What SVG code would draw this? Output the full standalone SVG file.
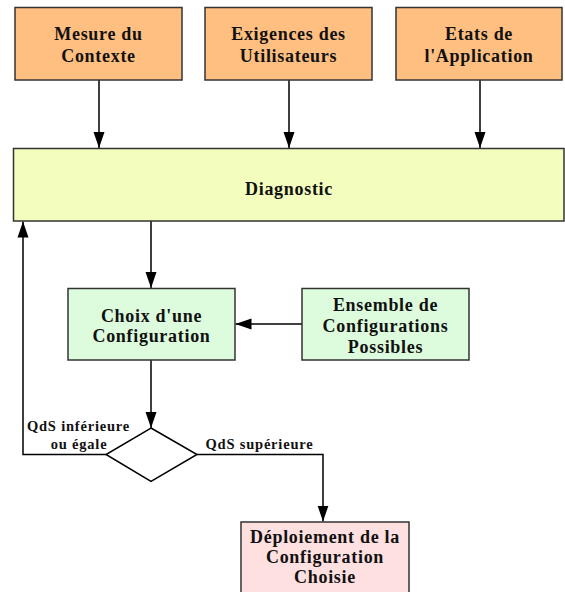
<svg xmlns="http://www.w3.org/2000/svg" width="565" height="592" viewBox="0 0 565 592">
<style>
.box{stroke:#333;stroke-width:1.5}
.orange{fill:#FFBF80}
.yellow{fill:#F3FDBD}
.green{fill:#DDFCDD}
.pink{fill:#FFE0E0}
.diamond{fill:#fff;stroke:#000;stroke-width:1.5}
text{font-family:"Liberation Serif","Times New Roman",serif;font-weight:bold;fill:#111;text-anchor:middle}
.t{font-size:18px;letter-spacing:0.7px}
.l{font-size:14.5px;letter-spacing:0.8px}
.edge{fill:none;stroke:#000;stroke-width:1.5}
</style>
<defs>
<marker id="arr" markerUnits="userSpaceOnUse" markerWidth="16" markerHeight="12" refX="16" refY="6" orient="auto">
<path d="M0,0.5 L16,6 L0,11.5 z" fill="#000"/>
</marker>
</defs>
<rect width="565" height="592" fill="#fff"/>
<g id="connectors">
<path class="edge" d="M99,80 V148" marker-end="url(#arr)"/>
<path class="edge" d="M289,80 V148" marker-end="url(#arr)"/>
<path class="edge" d="M480,80 V148" marker-end="url(#arr)"/>
<path class="edge" d="M151,221 V288" marker-end="url(#arr)"/>
<path class="edge" d="M302,324 H235.5" marker-end="url(#arr)"/>
<path class="edge" d="M151,360 V428" marker-end="url(#arr)"/>
<path class="edge" d="M106,454.5 H23 V221.5" marker-end="url(#arr)"/>
<path class="edge" d="M197,454.5 H323 V521.5" marker-end="url(#arr)"/>
</g>
<g id="mesure">
<rect class="box orange" x="15" y="7.5" width="167" height="72.5"/>
<text class="t" x="98.5" y="40">Mesure du</text>
<text class="t" x="98.5" y="62">Contexte</text>
</g>
<g id="exigences">
<rect class="box orange" x="205" y="7.5" width="167" height="72.5"/>
<text class="t" x="288.5" y="40">Exigences des</text>
<text class="t" x="288.5" y="62">Utilisateurs</text>
</g>
<g id="etats">
<rect class="box orange" x="396" y="7.5" width="166" height="72.5"/>
<text class="t" x="479" y="40">Etats de</text>
<text class="t" x="479" y="62">l'Application</text>
</g>
<g id="diagnostic">
<rect class="box yellow" x="13.5" y="148.5" width="550.5" height="72.5"/>
<text class="t" x="289" y="195">Diagnostic</text>
</g>
<g id="choix">
<rect class="box green" x="68" y="288.5" width="167" height="71.5"/>
<text class="t" x="151.5" y="322">Choix d'une</text>
<text class="t" x="151.5" y="342">Configuration</text>
</g>
<g id="ensemble">
<rect class="box green" x="302" y="288.5" width="167" height="71.5"/>
<text class="t" x="385.5" y="311">Ensemble de</text>
<text class="t" x="385.5" y="332">Configurations</text>
<text class="t" x="385.5" y="353">Possibles</text>
</g>
<g id="decision">
<polygon class="diamond" points="151,428 197,454.5 151,481.5 106,454.5"/>
<text class="l" x="78.5" y="431">QdS inférieure</text>
<text class="l" x="79" y="449">ou égale</text>
<text class="l" x="259.5" y="449">QdS supérieure</text>
</g>
<g id="deploiement">
<rect class="box pink" x="241" y="522" width="168" height="80"/>
<text class="t" x="325" y="543">Déploiement de la</text>
<text class="t" x="325" y="563">Configuration</text>
<text class="t" x="325" y="583">Choisie</text>
</g>
</svg>
